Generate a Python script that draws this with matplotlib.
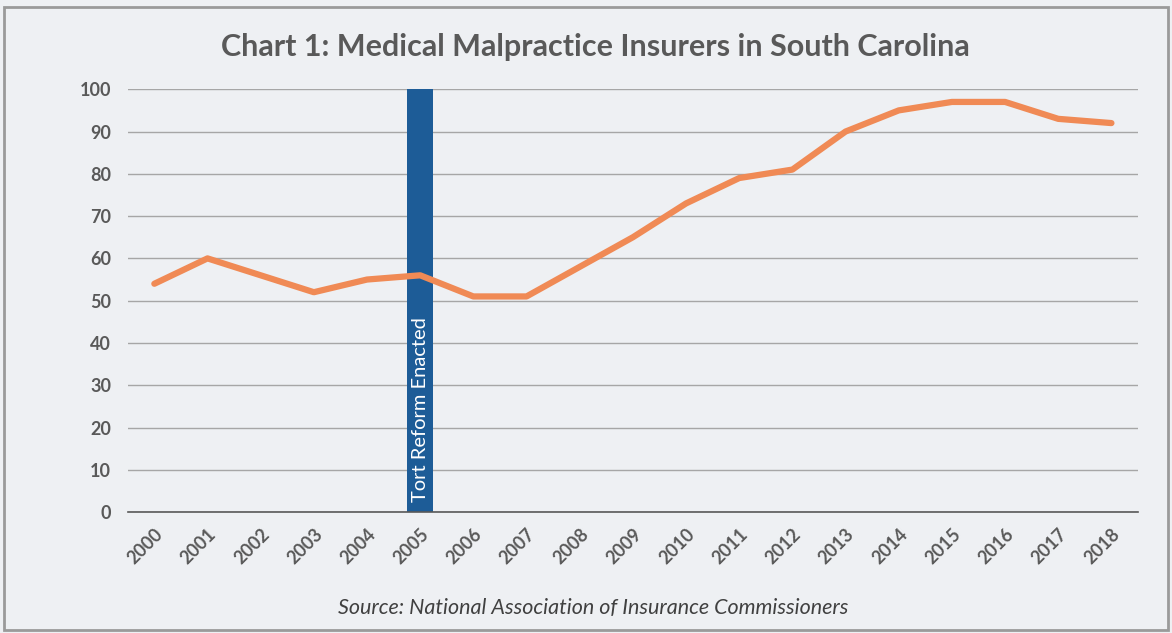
import numpy as np
import matplotlib.pyplot as plt
from matplotlib.patches import Rectangle

plt.rcParams['font.family'] = ['Lato', 'DejaVu Sans']

years = ['2000', '2001', '2002', '2003', '2004', '2005', '2006', '2007', '2008', '2009',
         '2010', '2011', '2012', '2013', '2014', '2015', '2016', '2017', '2018']
insurers = [54, 60, 56, 52, 55, 56, 51, 51, 58, 65, 73, 79, 81, 90, 95, 97, 97, 93, 92]
reform_year = '2005'
reform_height = 100
reform_label = 'Tort Reform Enacted'
y_ticks = [0, 10, 20, 30, 40, 50, 60, 70, 80, 90, 100]

bg = '#eef0f3'
text_grey = '#595959'

fig = plt.figure(figsize=(11.72, 6.33), dpi=100, facecolor=bg)
ax = fig.add_axes([0.109, 0.191, 0.862, 0.668])
ax.set_facecolor(bg)

x = np.arange(len(years))
ri = years.index(reform_year)
ax.bar(ri, reform_height, width=0.49, color='#1d5c97', zorder=2)
ax.text(ri, 2.5, reform_label, rotation=90, color='white', fontsize=14.5,
        ha='center', va='bottom', zorder=4)

ax.plot(x, insurers, color='#f08a55', lw=4.5, solid_joinstyle='round',
        solid_capstyle='round', zorder=3)

ax.set_xlim(-0.5, len(years) - 0.5)
ax.set_ylim(0, 100)
ax.set_yticks(y_ticks)
ax.set_yticklabels([str(v) for v in y_ticks], fontsize=13, fontweight='bold', color=text_grey)
ax.set_xticks(x)
ax.set_xticklabels(years, rotation=45, ha='right', va='top', rotation_mode='anchor',
                   fontsize=13, fontweight='bold', color=text_grey)
ax.tick_params(axis='both', length=0)
ax.tick_params(axis='y', pad=12)
ax.tick_params(axis='x', pad=10)

ax.grid(axis='y', color='#a6a6a6', lw=1, zorder=1)
for s in ['top', 'right', 'left']:
    ax.spines[s].set_visible(False)
ax.spines['bottom'].set_color('#595959')
ax.spines['bottom'].set_linewidth(1.2)
ax.spines['bottom'].set_zorder(2.5)

fig.text(0.508, 0.925, 'Chart 1: Medical Malpractice Insurers in South Carolina',
         ha='center', va='center', fontsize=22, fontweight='bold', color=text_grey)
fig.text(0.506, 0.04, 'Source: National Association of Insurance Commissioners',
         ha='center', va='center', fontsize=15.5, style='italic', color='#404040')

fig.patches.append(Rectangle((0.003, 0.004), 0.994, 0.985, transform=fig.transFigure,
                             fill=False, edgecolor='#9a9a9a', lw=2))

fig.savefig('out.png', dpi=100, facecolor=bg)
